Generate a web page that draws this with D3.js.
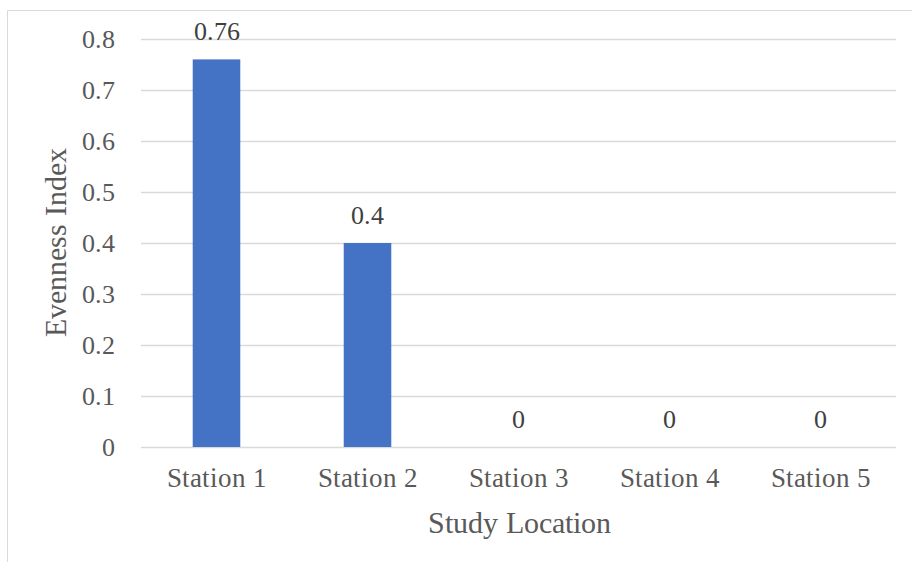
<!DOCTYPE html>
<html>
<head>
<meta charset="utf-8">
<script src="https://cdn.jsdelivr.net/npm/d3@7"></script>
<style>
  @font-face { font-family: "ChartSerif"; src: local("Liberation Serif"), local("LiberationSerif"), local("LiberationSerif-Regular"); }
</style>
</head>
<body style="margin:0">
<svg id="chart" width="912" height="562"></svg>
<script>
const categories = ["Station 1", "Station 2", "Station 3", "Station 4", "Station 5"];
const values = [0.76, 0.4, 0, 0, 0];
const yTicks = [0, 0.1, 0.2, 0.3, 0.4, 0.5, 0.6, 0.7, 0.8];
const yTitle = "Evenness Index";
const xTitle = "Study Location";

const svg = d3.select("#chart");
const W = 912, H = 562;
const plot = { left: 141, right: 896, top: 39, bottom: 447 };
const FONT = "ChartSerif, Tinos, Times New Roman, serif";
const textColor = "#595959";

// outer frame (top + left visible)
svg.append("line").attr("x1", 7.5).attr("x2", W).attr("y1", 10.5).attr("y2", 10.5)
  .attr("stroke", "#d9d9d9").attr("stroke-width", 1);
svg.append("line").attr("x1", 7.5).attr("x2", 7.5).attr("y1", 10.5).attr("y2", H)
  .attr("stroke", "#d9d9d9").attr("stroke-width", 1);

const x = d3.scaleBand().domain(categories).range([plot.left, plot.right]).paddingInner(0.685).paddingOuter(0.3425);
const y = d3.scaleLinear().domain([0, 0.8]).range([plot.bottom, plot.top]);

// gridlines
svg.append("g").selectAll("line").data(yTicks).join("line")
  .attr("x1", plot.left).attr("x2", plot.right)
  .attr("y1", d => Math.round(y(d)) + 0.5).attr("y2", d => Math.round(y(d)) + 0.5)
  .attr("stroke", "#d9d9d9").attr("stroke-width", 1.3);

// y axis labels
const yAxis = d3.axisLeft(y).tickValues(yTicks).tickSize(0).tickPadding(0)
  .tickFormat(d => d === 0 ? "0" : d3.format(".1f")(d));
const gy = svg.append("g").attr("transform", `translate(115,0)`).call(yAxis);
gy.attr("font-family", FONT).attr("font-size", 26);
gy.select(".domain").remove();
gy.selectAll("text").attr("font-family", FONT).attr("font-size", 26).attr("fill", textColor).attr("dy", "0.34em");

// bars
svg.append("g").selectAll("rect").data(values).join("rect")
  .attr("x", (d, i) => x(categories[i]))
  .attr("width", x.bandwidth())
  .attr("y", d => y(d))
  .attr("height", d => y(0) - y(d))
  .attr("fill", "#4472c4");

// data labels
svg.append("g").selectAll("text").data(values).join("text")
  .attr("x", (d, i) => x(categories[i]) + x.bandwidth() / 2)
  .attr("y", d => y(d) - 19)
  .attr("text-anchor", "middle")
  .attr("font-family", FONT).attr("font-size", 26).attr("fill", "#404040")
  .text(d => String(d));

// x axis labels
const xAxis = d3.axisBottom(x).tickSize(0).tickPadding(0);
const gx = svg.append("g").attr("transform", `translate(0,487)`).call(xAxis);
gx.attr("font-family", FONT).attr("font-size", 27);
gx.select(".domain").remove();
gx.selectAll("text").attr("font-family", FONT).attr("font-size", 27).attr("fill", textColor).attr("dy", "0");

// axis titles
svg.append("text").attr("x", (plot.left + plot.right) / 2 + 1).attr("y", 533)
  .attr("text-anchor", "middle").attr("font-family", FONT).attr("font-size", 30)
  .attr("fill", textColor).text(xTitle);
svg.append("text").attr("transform", `translate(66,242) rotate(-90)`)
  .attr("text-anchor", "middle").attr("font-family", FONT).attr("font-size", 30)
  .attr("fill", textColor).text(yTitle);
</script>
</body>
</html>
